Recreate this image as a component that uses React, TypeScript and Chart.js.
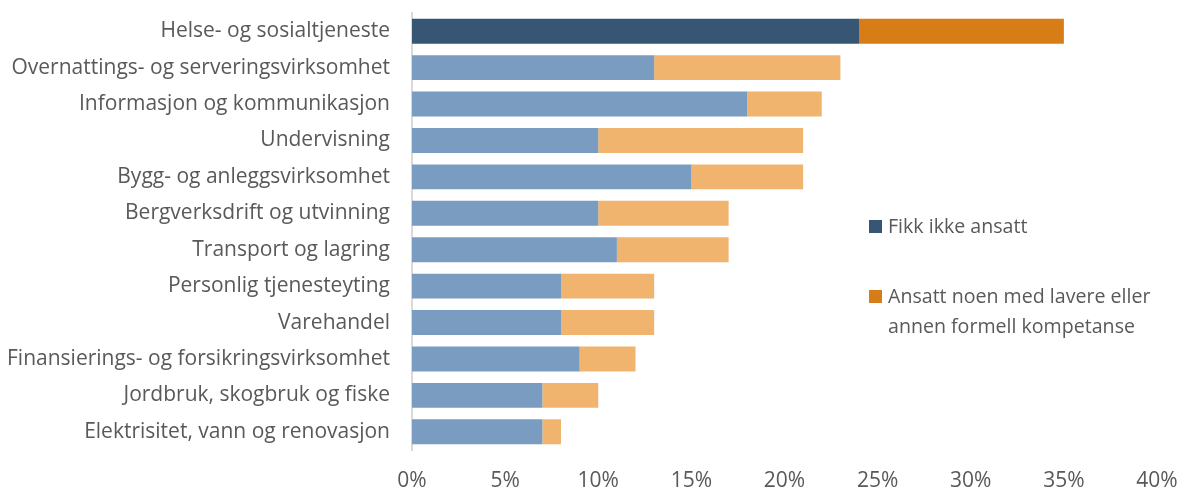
import React, { useEffect, useRef } from "react";
import { Chart, registerables } from "chart.js";

Chart.register(...registerables);

const categories = [
  "Helse- og sosialtjeneste",
  "Overnattings- og serveringsvirksomhet",
  "Informasjon og kommunikasjon",
  "Undervisning",
  "Bygg- og anleggsvirksomhet",
  "Bergverksdrift og utvinning",
  "Transport og lagring",
  "Personlig tjenesteyting",
  "Varehandel",
  "Finansierings- og forsikringsvirksomhet",
  "Jordbruk, skogbruk og fiske",
  "Elektrisitet, vann og renovasjon",
];

const fikkIkkeAnsatt = [24, 13, 18, 10, 15, 10, 11, 8, 8, 9, 7, 7];
const ansattLavere = [11, 10, 4, 11, 6, 7, 6, 5, 5, 3, 3, 1];

const seriesNames = [
  "Fikk ikke ansatt",
  "Ansatt noen med lavere eller annen formell kompetanse",
];

const xTicks = [0, 5, 10, 15, 20, 25, 30, 35, 40];

const FONT = "'Open Sans', sans-serif";
const TEXT = "#595959";

export default function App() {
  const ref = useRef<HTMLCanvasElement | null>(null);

  useEffect(() => {
    if (!ref.current) return;
    const dark1 = "#375673";
    const light1 = "#7a9cc0";
    const dark2 = "#d67d17";
    const light2 = "#f0b46e";
    const chart = new Chart(ref.current, {
      type: "bar",
      data: {
        labels: categories,
        datasets: [
          {
            label: seriesNames[0],
            data: fikkIkkeAnsatt,
            backgroundColor: categories.map((_, i) => (i === 0 ? dark1 : light1)),
            categoryPercentage: 1,
            barPercentage: 0.686,
          },
          {
            label: seriesNames[1],
            data: ansattLavere,
            backgroundColor: categories.map((_, i) => (i === 0 ? dark2 : light2)),
            categoryPercentage: 1,
            barPercentage: 0.686,
          },
        ],
      },
      options: {
        indexAxis: "y",
        animation: false,
        responsive: false,
        maintainAspectRatio: false,
        layout: { padding: { top: 13, left: 0, right: 23, bottom: 0 } },
        plugins: {
          legend: { display: false },
          tooltip: { enabled: false },
        },
        scales: {
          x: {
            stacked: true,
            min: 0,
            max: 40,
            afterBuildTicks: (scale: any) => {
              scale.ticks = xTicks.map((v) => ({ value: v }));
            },
            grid: { display: false, drawTicks: false },
            border: { display: false },
            ticks: {
              color: TEXT,
              font: { family: FONT, size: 21 },
              padding: 18,
              maxRotation: 0,
              callback: (v: any) => v + "%",
            },
            afterFit: (scale: any) => {
              scale.height = 40;
              scale.paddingLeft = 0;
              scale.paddingRight = 0;
            },
          },
          y: {
            stacked: true,
            grid: { display: false, drawTicks: false },
            border: { display: true, color: "#d9d9d9", width: 2 },
            ticks: {
              color: TEXT,
              font: { family: FONT, size: 21 },
              padding: 22,
            },
            afterFit: (scale: any) => {
              scale.width = 412;
              scale.paddingTop = 0;
              scale.paddingBottom = 0;
            },
          },
        },
      },
    });
    return () => chart.destroy();
  }, []);

  const sq = (c: string): React.CSSProperties => ({
    position: "absolute",
    left: 0,
    top: 9,
    width: 13,
    height: 13,
    background: c,
  });

  return (
    <div
      style={{
        position: "fixed",
        left: 0,
        top: 0,
        width: 1180,
        height: 490,
        background: "#fff",
        fontFamily: FONT,
      }}
    >
      <canvas ref={ref} width={1180} height={490} style={{ display: "block" }} />
      <div
        style={{
          position: "absolute",
          left: 869,
          top: 211,
          color: TEXT,
          fontSize: 19.6,
          lineHeight: "30px",
        }}
      >
        <div style={{ position: "relative", paddingLeft: 19, height: 30 }}>
          <div style={sq("#375673")} />
          {seriesNames[0]}
        </div>
        <div style={{ position: "relative", paddingLeft: 19, marginTop: 40, width: 300 }}>
          <div style={sq("#d67d17")} />
          Ansatt noen med lavere eller
          <br />
          annen formell kompetanse
        </div>
      </div>
    </div>
  );
}
